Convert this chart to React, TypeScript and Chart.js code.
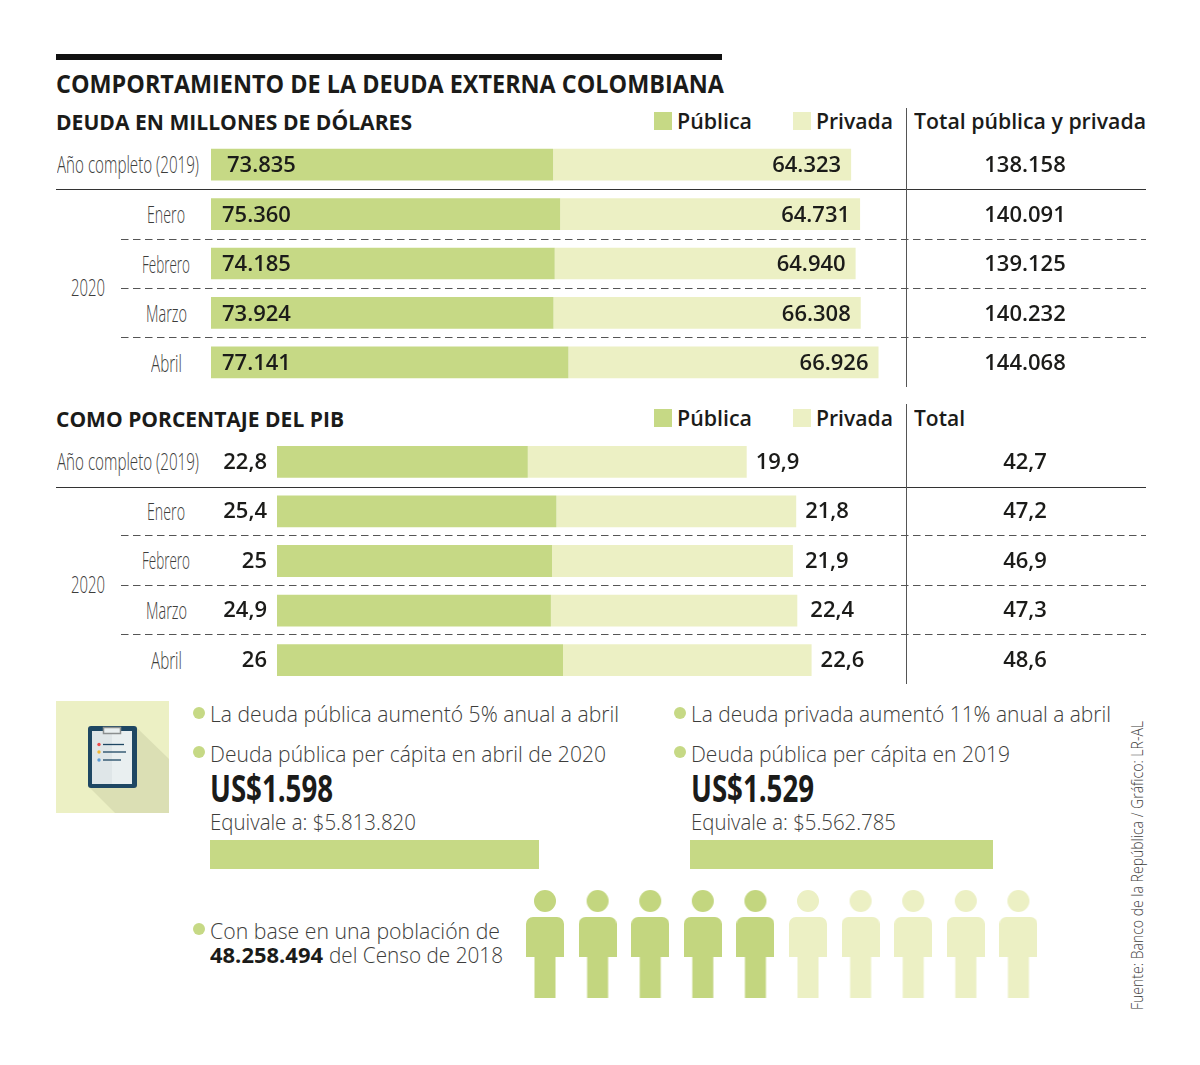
import React, { useEffect, useRef } from "react";
import { Chart, registerables } from "chart.js";

Chart.register(...registerables);

const debtRows = ["Año completo (2019)", "Enero", "Febrero", "Marzo", "Abril"];
const debtPublic = [73835, 75360, 74185, 73924, 77141];
const debtPrivate = [64323, 64731, 64940, 66308, 66926];
const debtTotal = [138158, 140091, 139125, 140232, 144068];
const gdpPublic = [22.8, 25.4, 25, 24.9, 26];
const gdpPrivate = [19.9, 21.8, 21.9, 22.4, 22.6];
const gdpTotal = [42.7, 47.2, 46.9, 47.3, 48.6];
const perCapita2020 = [1598];
const perCapita2019 = [1529];
const peopleDark = [1, 2, 3, 4, 5];
const peopleLight = [6, 7, 8, 9, 10];

const DARK = "#c6d985";
const LIGHT = "#ecf0c4";
const INK = "#1b1b19";
const SOFT = "#3d3d3b";
const FONT = "'Open Sans'";

const thousands = (v: number) => String(v).replace(/\B(?=(\d{3})+$)/g, ".");
const decimal = (v: number) => String(v).replace(".", ",");

const measureCtx = document.createElement("canvas").getContext("2d")!;

function fitScale(text: string, size: number, weight: number, w: number) {
  measureCtx.font = `${weight} ${size}px ${FONT}`;
  return w / (measureCtx.measureText(text).width || 1);
}

function T({ x, y, w, size, weight = 400, color = INK, children }: any) {
  const sx = w ? fitScale(String(children), size, weight, w) : 1;
  return (
    <span
      style={{
        position: "absolute",
        left: x,
        top: y - size - 1.5,
        lineHeight: `${size * 2}px`,
        fontFamily: FONT,
        fontSize: size,
        fontWeight: weight,
        color,
        whiteSpace: "nowrap",
        transform: `scaleX(${sx})`,
        transformOrigin: "left center",
      }}
    >
      {children}
    </span>
  );
}

function Box({ x, y, w, h, c, r }: any) {
  return <div style={{ position: "absolute", left: x, top: y, width: w, height: h, background: c, borderRadius: r }} />;
}

function personImage(color: string) {
  const c = document.createElement("canvas");
  c.width = 38;
  c.height = 108;
  const g = c.getContext("2d")!;
  g.fillStyle = color;
  g.beginPath();
  g.arc(19, 11, 11, 0, Math.PI * 2);
  g.fill();
  g.beginPath();
  g.moveTo(0, 67);
  g.lineTo(0, 34);
  g.arcTo(0, 27, 7, 27, 7);
  g.lineTo(31, 27);
  g.arcTo(38, 27, 38, 34, 7);
  g.lineTo(38, 67);
  g.lineTo(29.5, 67);
  g.lineTo(29.5, 108);
  g.lineTo(8.5, 108);
  g.lineTo(8.5, 67);
  g.closePath();
  g.fill();
  return c;
}

const base = (extra: any = {}) => ({
  animation: false as const,
  responsive: false,
  maintainAspectRatio: false,
  indexAxis: "y" as const,
  events: [],
  layout: { padding: 0 },
  plugins: { legend: { display: false }, tooltip: { enabled: false } },
  ...extra,
});

function stackedChart(
  canvas: HTMLCanvasElement,
  pub: number[],
  priv: number[],
  totals: number[],
  max: number,
  left: number,
  right: number,
  totalX: number,
  dy: number,
  draw: (ctx: CanvasRenderingContext2D, i: number, a: any, b: any, left: number) => void,
  fmtTotal: (v: number) => string,
) {
  return new Chart(canvas, {
    type: "bar",
    data: {
      labels: debtRows,
      datasets: [
        { data: pub, backgroundColor: DARK, barPercentage: 0.642, categoryPercentage: 1 },
        { data: priv, backgroundColor: LIGHT, barPercentage: 0.642, categoryPercentage: 1 },
      ],
    },
    options: base({
      layout: { padding: { left, right, top: 0, bottom: 0 } },
      scales: {
        x: { display: false, stacked: true, min: 0, max },
        y: { display: false, stacked: true },
      },
    }),
    plugins: [
      {
        id: "values",
        afterDatasetsDraw(chart: any) {
          const ctx = chart.ctx;
          const a = chart.getDatasetMeta(0).data;
          const b = chart.getDatasetMeta(1).data;
          ctx.save();
          ctx.fillStyle = INK;
          ctx.textBaseline = "middle";
          ctx.font = `600 22px ${FONT}`;
          totals.forEach((t, i) => {
            draw(ctx, i, a[i], b[i], chart.chartArea.left);
            ctx.textAlign = "center";
            ctx.fillText(fmtTotal(t), totalX, a[i].y + dy);
          });
          ctx.restore();
        },
      },
    ],
  });
}

function singleBar(canvas: HTMLCanvasElement, values: number[]) {
  return new Chart(canvas, {
    type: "bar",
    data: {
      labels: ["Deuda per cápita"],
      datasets: [{ data: values, backgroundColor: DARK, barPercentage: 1, categoryPercentage: 1 }],
    },
    options: base({
      scales: { x: { display: false, min: 0, max: values[0] }, y: { display: false } },
    }),
  });
}

function peopleChart(canvas: HTMLCanvasElement) {
  const row = (xs: number[]) => xs.map((x) => ({ x, y: 0 }));
  return new Chart(canvas, {
    type: "scatter",
    data: {
      datasets: [
        { data: row(peopleDark), pointStyle: personImage("#c3d67f"), pointRadius: 20 },
        { data: row(peopleLight), pointStyle: personImage(LIGHT), pointRadius: 20 },
      ],
    },
    options: base({
      indexAxis: "x",
      layout: { padding: { left: 45, right: 41.6, top: 0, bottom: 0 } },
      scales: { x: { display: false, min: 1, max: 10 }, y: { display: false, min: -1, max: 1 } },
      clip: false,
    }),
  });
}

function Legend({ y }: { y: number }) {
  return (
    <>
      <Box x={654} y={y - 9} w={18} h={18} c={DARK} />
      <T x={677} y={y} w={75} size={22} weight={600}>Pública</T>
      <Box x={793} y={y - 9} w={18} h={18} c={LIGHT} />
      <T x={816} y={y} w={77} size={22} weight={600}>Privada</T>
    </>
  );
}

function RowLabels({ ys, y2020 }: { ys: number[]; y2020: number }) {
  const xs = [57, 147, 142, 146, 151];
  const ws = [142, 38, 48, 41, 31];
  return (
    <>
      {debtRows.map((r, i) => (
        <T key={r} x={xs[i]} y={ys[i]} w={ws[i]} size={23} weight={300} color={SOFT}>{r}</T>
      ))}
      <T x={71} y={y2020} w={34} size={23} weight={300} color={SOFT}>2020</T>
    </>
  );
}

function Bullet({ x, y }: { x: number; y: number }) {
  return <Box x={x - 6} y={y - 6} w={12} h={12} c={DARK} r="50%" />;
}

const sourceText = "Fuente: Banco de la República / Gráfico: LR-AL";

export default function App() {
  const c1 = useRef<HTMLCanvasElement>(null);
  const c2 = useRef<HTMLCanvasElement>(null);
  const c3 = useRef<HTMLCanvasElement>(null);
  const c4 = useRef<HTMLCanvasElement>(null);
  const c5 = useRef<HTMLCanvasElement>(null);

  useEffect(() => {
    const charts = [
      stackedChart(
        c1.current!, debtPublic, debtPrivate, debtTotal, 150000, 0, 294, 814, 1.5,
        (ctx, i, a, b, left) => {
          ctx.textAlign = "left";
          ctx.fillText(thousands(debtPublic[i]), left + (i === 0 ? 16 : 11), a.y + 1.5);
          ctx.textAlign = "right";
          ctx.fillText(thousands(debtPrivate[i]), b.x - 10, b.y + 1.5);
        },
        thousands,
      ),
      stackedChart(
        c2.current!, gdpPublic, gdpPrivate, gdpTotal, 60, 60, 263, 808, 0.5,
        (ctx, i, a, b, left) => {
          ctx.textAlign = "right";
          ctx.fillText(decimal(gdpPublic[i]), left - 10, a.y + 0.5);
          ctx.textAlign = "left";
          ctx.fillText(decimal(gdpPrivate[i]), b.x + [9, 9, 12, 13, 9][i], b.y + 0.5);
        },
        decimal,
      ),
      singleBar(c3.current!, perCapita2020),
      singleBar(c4.current!, perCapita2019),
      peopleChart(c5.current!),
    ];
    return () => charts.forEach((c) => c.destroy());
  }, []);

  const cv = (x: number, y: number, w: number, h: number) => ({
    style: { position: "absolute" as const, left: x, top: y, width: w, height: h },
    width: w,
    height: h,
  });

  return (
    <div style={{ position: "relative", width: 1200, height: 1065, overflow: "hidden", background: "#fff" }}>
      <style>{`body{margin:0}`}</style>

      <svg width={1200} height={1065} style={{ position: "absolute", left: 0, top: 0 }}>
        <rect x={56} y={54} width={666} height={6} fill="#111" />
        {[189.5, 487.5].map((y) => (
          <line key={y} x1={56} x2={1146} y1={y} y2={y} stroke="#333" strokeWidth={1} />
        ))}
        {[239.5, 288.5, 337.5, 535.5, 585.5, 634.5].map((y) => (
          <line key={y} x1={121} x2={1146} y1={y} y2={y} stroke="#555" strokeWidth={1.2} strokeDasharray="7.5 4.5" />
        ))}
        <line x1={906.5} x2={906.5} y1={108} y2={387} stroke="#555" strokeWidth={1} />
        <line x1={906.5} x2={906.5} y1={404} y2={684} stroke="#555" strokeWidth={1} />

        <rect x={56} y={701} width={113} height={112} fill={LIGHT} />
        <polygon points="136,727 169,759 169,813 115,813 88,786" fill="#dbdfb4" />
        <rect x={88} y={726} width={49} height={62} rx={3} fill="#1e4763" />
        <rect x={92} y={731} width={20} height={53} fill="#dfe6e8" />
        <rect x={112} y={731} width={20} height={53} fill="#e9eff0" />
        <rect x={103.5} y={727.5} width={17} height={6} fill="#e9eff0" stroke="#8b8f8f" strokeWidth={1.5} />
        {[744.5, 752, 760].map((y, i) => (
          <line key={y} x1={103} x2={[124, 126, 121][i]} y1={y} y2={y} stroke="#1e4763" strokeWidth={1.3} />
        ))}
        <circle cx={99} cy={744.5} r={1.7} fill="#ef4a4a" />
        <circle cx={99} cy={752} r={1.7} fill="#f2b632" />
        <circle cx={99} cy={760} r={1.7} fill="#5b9bd5" />
      </svg>

      <T x={56} y={84} w={668} size={25} weight={700}>COMPORTAMIENTO DE LA DEUDA EXTERNA COLOMBIANA</T>
      <T x={56} y={122} w={356} size={22} weight={700}>DEUDA EN MILLONES DE DÓLARES</T>
      <Legend y={121} />
      <T x={914} y={121} w={232} size={22} weight={600}>Total pública y privada</T>
      <RowLabels ys={[165, 215, 265, 314, 364]} y2020={288} />
      <canvas ref={c1} {...cv(211, 140, 989, 247)} />

      <T x={56} y={419} w={288} size={22} weight={700}>COMO PORCENTAJE DEL PIB</T>
      <Legend y={418} />
      <T x={914} y={418} w={51} size={22} weight={600}>Total</T>
      <RowLabels ys={[462, 512, 561, 611, 661]} y2020={585} />
      <canvas ref={c2} {...cv(217, 437, 983, 248)} />

      <Bullet x={199} y={713} />
      <T x={210} y={714} w={409} size={22} weight={300} color={SOFT}>La deuda pública aumentó 5% anual a abril</T>
      <Bullet x={199} y={752} />
      <T x={210} y={754} w={396} size={22} weight={300} color={SOFT}>Deuda pública per cápita en abril de 2020</T>
      <T x={210} y={788} w={123} size={38} weight={700}>US$1.598</T>
      <T x={210} y={822} w={206} size={22} weight={300} color={SOFT}>Equivale a: $5.813.820</T>
      <canvas ref={c3} {...cv(210, 840, 329, 29)} />

      <Bullet x={680} y={713} />
      <T x={690.5} y={714} w={420} size={22} weight={300} color={SOFT}>La deuda privada aumentó 11% anual a abril</T>
      <Bullet x={680} y={752} />
      <T x={690.5} y={754} w={319} size={22} weight={300} color={SOFT}>Deuda pública per cápita en 2019</T>
      <T x={690.5} y={788} w={123} size={38} weight={700}>US$1.529</T>
      <T x={690.5} y={822} w={205} size={22} weight={300} color={SOFT}>Equivale a: $5.562.785</T>
      <canvas ref={c4} {...cv(690, 840, 303, 29)} />

      <Bullet x={199} y={929} />
      <T x={210} y={931} w={290} size={22} weight={300} color={SOFT}>Con base en una población de</T>
      <T x={210} y={955} w={113} size={22} weight={700}>48.258.494</T>
      <T x={329} y={955} w={174} size={22} weight={300} color={SOFT}>del Censo de 2018</T>
      <canvas ref={c5} {...cv(500, 879, 560, 130)} />

      <span
        style={{
          position: "absolute",
          left: 1137,
          top: 1002,
          fontFamily: FONT,
          fontSize: 16,
          fontWeight: 300,
          color: SOFT,
          whiteSpace: "nowrap",
          lineHeight: "16px",
          transform: `rotate(-90deg) scaleX(${fitScale(sourceText, 16, 300, 289)})`,
          transformOrigin: "left center",
        }}
      >
        {sourceText}
      </span>
    </div>
  );
}
